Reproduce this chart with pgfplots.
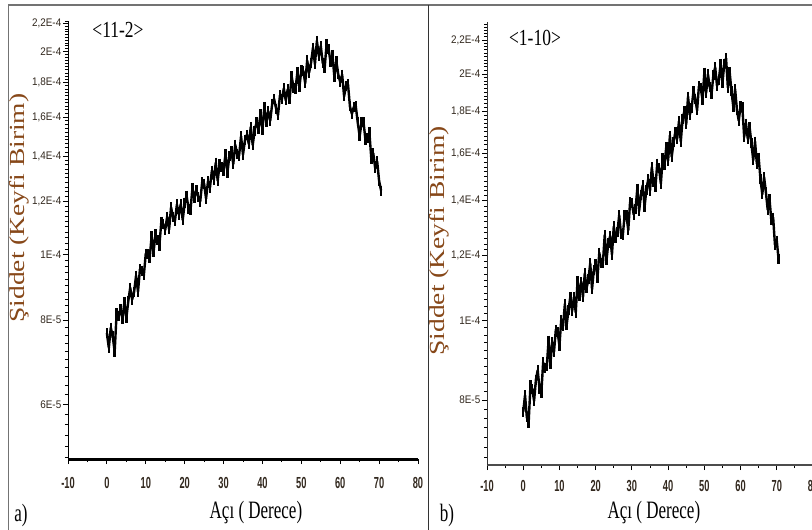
\documentclass[border=0pt]{standalone}
\usepackage{fontspec}
\setmainfont{Liberation Serif}
\usepackage{graphicx}
\usepackage{pgfplots}
\pgfplotsset{compat=1.18}
\newfontfamily\xtf{Liberation Sans}[UprightFont=* Bold, FakeStretch=0.58]
\newfontfamily\ytf{Liberation Sans}[FakeStretch=0.9]
\newfontfamily\lbf{Liberation Serif}[FakeStretch=0.68]
\newfontfamily\tgf{Liberation Serif}[FakeStretch=0.76]
\definecolor{labbrown}{RGB}{135,72,25}
\definecolor{tickcol}{RGB}{50,40,30}
\def\minorlist{5e-5}
\foreach \i in {52,54,...,236}{\xdef\minorlist{\minorlist,\i e-6}}

\pgfplotstableread{
x y
0 7.65e-5
0.5 7.28e-5
1 7.80e-5
1.5 7.57e-5
2 7.18e-5
2.5 8.19e-5
3 8.10e-5
3.5 8.31e-5
4 8.04e-5
4.5 8.50e-5
5 8.05e-5
5.5 8.53e-5
6 8.94e-5
6.5 8.58e-5
7 8.81e-5
7.5 9.31e-5
8 8.81e-5
8.5 9.52e-5
9 9.47e-5
9.5 9.32e-5
10 1.004e-4
10.5 1.001e-4
11 9.88e-5
11.5 1.065e-4
12 1.009e-4
12.5 1.073e-4
13 1.052e-4
13.5 1.032e-4
14 1.120e-4
14.5 1.109e-4
15 1.088e-4
15.5 1.139e-4
16 1.090e-4
16.5 1.176e-4
17 1.138e-4
17.5 1.122e-4
18 1.187e-4
18.5 1.147e-4
19 1.189e-4
19.5 1.126e-4
20 1.192e-4
20.5 1.223e-4
21 1.170e-4
21.5 1.165e-4
22 1.256e-4
22.5 1.215e-4
23 1.246e-4
23.5 1.217e-4
24 1.199e-4
24.5 1.280e-4
25 1.275e-4
25.5 1.211e-4
26 1.285e-4
26.5 1.257e-4
27 1.333e-4
27.5 1.292e-4
28 1.369e-4
28.5 1.287e-4
29 1.365e-4
29.5 1.349e-4
30 1.333e-4
30.5 1.410e-4
31 1.323e-4
31.5 1.401e-4
32 1.424e-4
32.5 1.363e-4
33 1.456e-4
33.5 1.409e-4
34 1.403e-4
34.5 1.499e-4
35 1.407e-4
35.5 1.478e-4
36 1.506e-4
36.5 1.459e-4
37 1.547e-4
37.5 1.454e-4
38 1.528e-4
38.5 1.572e-4
39 1.538e-4
39.5 1.614e-4
40 1.533e-4
40.5 1.656e-4
41 1.572e-4
41.5 1.632e-4
42 1.579e-4
42.5 1.673e-4
43 1.702e-4
43.5 1.647e-4
44 1.609e-4
44.5 1.722e-4
45 1.700e-4
45.5 1.765e-4
46 1.693e-4
46.5 1.759e-4
47 1.703e-4
47.5 1.841e-4
48 1.766e-4
48.5 1.762e-4
49 1.866e-4
49.5 1.771e-4
50 1.877e-4
50.5 1.874e-4
51 1.795e-4
51.5 1.942e-4
52 1.862e-4
52.5 1.925e-4
53 2.028e-4
53.5 1.916e-4
54 2.075e-4
54.5 1.970e-4
55 2.039e-4
55.5 1.926e-4
56 1.892e-4
56.5 2.054e-4
57 2.020e-4
57.5 1.931e-4
58 1.979e-4
58.5 1.834e-4
59 1.936e-4
59.5 1.850e-4
60 1.802e-4
60.5 1.849e-4
61 1.717e-4
61.5 1.780e-4
62 1.789e-4
62.5 1.659e-4
63 1.617e-4
63.5 1.656e-4
64 1.661e-4
64.5 1.571e-4
65 1.498e-4
65.5 1.574e-4
66 1.571e-4
66.5 1.478e-4
67 1.490e-4
67.5 1.518e-4
68 1.387e-4
68.5 1.414e-4
69 1.343e-4
69.5 1.375e-4
70 1.287e-4
70.5 1.245e-4
}\dataA

\pgfplotstableread{
x y
0 7.74e-5
0.5 8.11e-5
1 7.62e-5
1.5 7.51e-5
2 8.34e-5
2.5 8.25e-5
3 7.98e-5
3.5 8.47e-5
4 8.70e-5
4.5 8.26e-5
5 8.16e-5
5.5 8.89e-5
6 8.75e-5
6.5 8.79e-5
7 9.45e-5
7.5 8.85e-5
8 9.41e-5
8.5 9.16e-5
9 9.75e-5
9.5 9.68e-5
10 9.31e-5
10.5 1.003e-4
11 9.85e-5
11.5 1.048e-4
12 9.89e-5
12.5 1.029e-4
13 1.069e-4
13.5 1.027e-4
14 1.068e-4
14.5 1.023e-4
15 1.118e-4
15.5 1.073e-4
16 1.115e-4
16.5 1.068e-4
17 1.143e-4
17.5 1.095e-4
18 1.123e-4
18.5 1.175e-4
19 1.092e-4
19.5 1.154e-4
20 1.173e-4
20.5 1.128e-4
21 1.210e-4
21.5 1.176e-4
22 1.176e-4
22.5 1.272e-4
23 1.185e-4
23.5 1.245e-4
24 1.268e-4
24.5 1.204e-4
25 1.303e-4
25.5 1.261e-4
26 1.283e-4
26.5 1.345e-4
27 1.276e-4
27.5 1.272e-4
28 1.346e-4
28.5 1.344e-4
29 1.289e-4
29.5 1.395e-4
30 1.392e-4
30.5 1.347e-4
31 1.369e-4
31.5 1.449e-4
32 1.360e-4
32.5 1.425e-4
33 1.463e-4
33.5 1.376e-4
34 1.445e-4
34.5 1.487e-4
35 1.441e-4
35.5 1.539e-4
36 1.475e-4
36.5 1.455e-4
37 1.555e-4
37.5 1.535e-4
38 1.469e-4
38.5 1.579e-4
39 1.549e-4
39.5 1.630e-4
40 1.568e-4
40.5 1.682e-4
41 1.584e-4
41.5 1.650e-4
42 1.700e-4
42.5 1.666e-4
43 1.751e-4
43.5 1.654e-4
44 1.762e-4
44.5 1.803e-4
45 1.736e-4
45.5 1.877e-4
46 1.784e-4
46.5 1.817e-4
47 1.906e-4
47.5 1.865e-4
48 1.805e-4
48.5 1.931e-4
49 1.924e-4
49.5 1.860e-4
50 2.007e-4
50.5 1.896e-4
51 1.998e-4
51.5 1.926e-4
52 1.892e-4
52.5 1.994e-4
53 2.038e-4
53.5 1.934e-4
54 1.965e-4
54.5 2.058e-4
55 1.950e-4
55.5 2.055e-4
56 2.090e-4
56.5 1.925e-4
57 2.009e-4
57.5 1.905e-4
58 1.823e-4
58.5 1.917e-4
59 1.807e-4
59.5 1.754e-4
60 1.826e-4
60.5 1.821e-4
61 1.675e-4
61.5 1.740e-4
62 1.666e-4
62.5 1.723e-4
63 1.645e-4
63.5 1.569e-4
64 1.654e-4
64.5 1.554e-4
65 1.581e-4
65.5 1.488e-4
66 1.426e-4
66.5 1.497e-4
67 1.434e-4
67.5 1.365e-4
68 1.406e-4
68.5 1.325e-4
69 1.336e-4
69.5 1.237e-4
70 1.252e-4
70.5 1.188e-4
}\dataB

\begin{document}
\begin{tikzpicture}[x=1pt,y=1pt]
\useasboundingbox (0,0) rectangle (812,530);
\clip (0,0) rectangle (812,530);
\fill[white] (0,0) rectangle (812,530);
\draw[black!55, line width=1.6pt] (8.5,0) -- (8.5,525) -- (812,525);
\draw[black!80, line width=0.9pt] (428,0) -- (428,525);

\begin{axis}[
  scale only axis,
  anchor=south west,
  at={(68pt,71pt)}, width=350pt, height=438pt,
  xmin=-10, xmax=80,
  ymode=log,
  ymin=4.98e-5, ymax=2.22e-4,
  axis x line*=bottom,
  axis y line*=left,
  tick align=outside,
  xtick={-10,0,10,20,30,40,50,60,70,80},
  xticklabels={-10,0,10,20,30,40,50,60,70,80},
  minor x tick num=1,
  ytick={6e-5,8e-5,1e-4,1.2e-4,1.4e-4,1.6e-4,1.8e-4,2e-4,2.2e-4},
  yticklabels={6E-5,8E-5,1E-4,{1,2E-4},{1,4E-4},{1,6E-4},{1,8E-4},2E-4,{2,2E-4}},
  minor ytick/.expanded={\minorlist},
  major tick length=5pt,
  minor tick length=3pt,
  every tick/.append style={black, line width=0.8pt},
  xticklabel style={font=\xtf\fontsize{16}{16}\selectfont, text=tickcol, anchor=north, inner sep=0pt, yshift=-13pt},
  yticklabel style={font=\ytf\fontsize{11}{11}\selectfont, text=tickcol, anchor=east, inner sep=1.5pt},
  x axis line style={line width=3pt, black},
  y axis line style={line width=0.9pt, black},
  xlabel={\lbf\fontsize{25}{25}\selectfont Açı ( Derece)},
  ylabel={\scalebox{1}[0.78]{\fontsize{27.5}{27.5}\selectfont Şiddet (Keyfi Birim)}},
  xlabel style={anchor=center, at={(rel axis cs:0.537,-0.121)}},
  ylabel style={text=labbrown, anchor=center, at={(rel axis cs:-0.14,0.573)}},
]
\addplot[black, line width=2.4pt, line join=round, mark=|, mark size=5pt, mark options={line width=2.4pt}] table[x=x,y=y] {\dataA};
\end{axis}

\begin{axis}[
  scale only axis,
  anchor=south west,
  at={(487pt,65pt)}, width=326pt, height=443pt,
  xmin=-10, xmax=80,
  ymode=log,
  ymin=6.664e-5, ymax=2.314e-4,
  axis x line*=bottom,
  axis y line*=left,
  tick align=outside,
  xtick={-10,0,10,20,30,40,50,60,70,80},
  xticklabels={-10,0,10,20,30,40,50,60,70,80},
  minor x tick num=1,
  ytick={8e-5,1e-4,1.2e-4,1.4e-4,1.6e-4,1.8e-4,2e-4,2.2e-4},
  yticklabels={8E-5,1E-4,{1,2E-4},{1,4E-4},{1,6E-4},{1,8E-4},2E-4,{2,2E-4}},
  minor ytick/.expanded={\minorlist},
  major tick length=5pt,
  minor tick length=3pt,
  every tick/.append style={black, line width=0.8pt},
  xticklabel style={font=\xtf\fontsize{16}{16}\selectfont, text=tickcol, anchor=north, inner sep=0pt, yshift=-10pt},
  yticklabel style={font=\ytf\fontsize{11}{11}\selectfont, text=tickcol, anchor=east, inner sep=1.5pt},
  x axis line style={line width=1.3pt, black!70},
  y axis line style={line width=0.9pt, black!80},
  xlabel={\lbf\fontsize{25}{25}\selectfont Açı ( Derece)},
  ylabel={\scalebox{1}[0.78]{\fontsize{27.5}{27.5}\selectfont Şiddet (Keyfi Birim)}},
  xlabel style={anchor=center, at={(rel axis cs:0.512,-0.108)}},
  ylabel style={text=labbrown, anchor=center, at={(rel axis cs:-0.147,0.506)}},
]
\addplot[black, line width=2.4pt, line join=round, mark=|, mark size=5pt, mark options={line width=2.4pt}] table[x=x,y=y] {\dataB};
\end{axis}

\node[font=\lbf\fontsize{25}{25}\selectfont] at (21,15) {a)};
\node[font=\lbf\fontsize{25}{25}\selectfont] at (447,15) {b)};
\node[font=\tgf\fontsize{23}{23}\selectfont] at (118,500) {<11-2>};
\node[font=\tgf\fontsize{23}{23}\selectfont] at (535,492) {<1-10>};
\end{tikzpicture}
\end{document}
